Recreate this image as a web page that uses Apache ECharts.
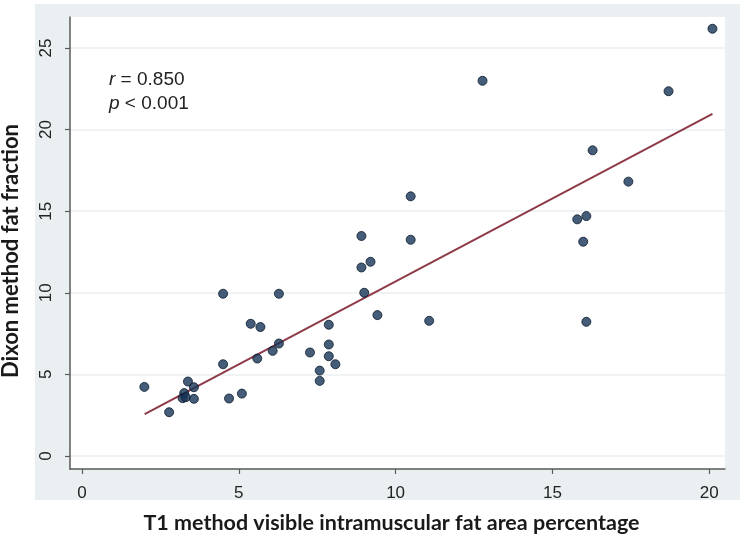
<!DOCTYPE html>
<html>
<head>
<meta charset="utf-8">
<script src="https://cdn.jsdelivr.net/npm/echarts@6/dist/echarts.min.js"></script>
<style>html,body{margin:0;padding:0;background:#fff}#c{width:750px;height:544px}</style>
</head>
<body>
<div id="c"></div>
<script>
// T1 visible intramuscular fat area percentage (x) vs Dixon fat fraction (y)
var xValues = [4.50, 6.28, 5.38, 5.69, 7.87, 6.28, 6.08, 5.59, 7.27, 7.87, 7.87, 8.08, 7.58, 7.58, 4.50,
  1.99, 3.38, 3.57, 3.26, 3.21, 3.31, 3.57, 4.69, 5.10, 2.78,
  10.48, 8.91, 10.48, 9.20, 8.91, 9.00, 9.42, 11.07,
  20.1, 12.77, 18.70, 16.28, 17.42, 15.79, 16.08, 15.98, 16.08];
var yValues = [9.94, 9.94, 8.10, 7.90, 8.04, 6.89, 6.44, 5.97, 6.34, 6.83, 6.11, 5.62, 5.23, 4.60, 5.62,
  4.23, 4.56, 4.21, 3.85, 3.54, 3.60, 3.50, 3.52, 3.82, 2.68,
  15.91, 13.48, 13.25, 11.90, 11.55, 10.0, 8.63, 8.28,
  26.18, 22.99, 22.35, 18.73, 16.81, 14.50, 14.70, 13.13, 8.22];
// fitted line end points
var fitX = [2.0, 20.1];
var fitY = [2.56, 20.96];
var xTicks = [0, 5, 10, 15, 20];
var yTicks = [0, 5, 10, 15, 20, 25];
var statR = '0.850';
var statP = '0.001';

var points = xValues.map(function (x, i) { return [x, yValues[i]]; });
var fitLine = fitX.map(function (x, i) { return [x, fitY[i]]; });

var chart = echarts.init(document.getElementById('c'), null, { renderer: 'canvas' });
var axisColor = '#5a5a5a';
chart.setOption({
  animation: false,
  backgroundColor: '#ffffff',
  graphic: [
    { type: 'rect', z: -10, shape: { x: 35, y: 4, width: 705, height: 496 }, style: { fill: '#eaf0f2' } },
    { type: 'text', z: 10, left: 109, top: 68, style: {
        text: '{i|r} = ' + statR + '\n{i|p} < ' + statP,
        font: '19px "Liberation Sans", Arial, sans-serif', fill: '#222', lineHeight: 24,
        rich: { i: { fontStyle: 'italic', fontSize: 19, fontFamily: 'Liberation Sans', fill: '#222' } }
    } }
  ],
  grid: { left: 70, top: 17, right: 25, bottom: 75, show: true, backgroundColor: '#ffffff', borderWidth: 0,
    containLabel: false, outerBoundsMode: 'none' },
  xAxis: {
    type: 'value', min: -0.38, max: 20.5,
    name: 'T1 method visible intramuscular fat area percentage',
    nameLocation: 'middle', nameGap: 43,
    nameTextStyle: { fontFamily: 'Lato', fontWeight: 'bold', fontSize: 21.5, color: '#1a1a1a', padding: [0, 12, 0, 0] },
    axisLine: { show: true, onZero: false, lineStyle: { color: axisColor, width: 1.5 } },
    axisTick: { show: true, length: 5, customValues: xTicks, lineStyle: { color: axisColor, width: 1.2 } },
    axisLabel: { customValues: xTicks, margin: 16, fontFamily: 'Liberation Sans', fontSize: 17, color: '#222' },
    splitLine: { show: false }
  },
  yAxis: {
    type: 'value', min: -0.8, max: 26.9,
    name: 'Dixon method fat fraction',
    nameLocation: 'middle', nameGap: 48,
    nameTextStyle: { fontFamily: 'Lato', fontWeight: 'bold', fontSize: 22, color: '#1a1a1a', padding: [0, 16, 0, 0] },
    axisLine: { show: true, onZero: false, lineStyle: { color: axisColor, width: 1.5 } },
    axisTick: { show: true, length: 5, customValues: yTicks, lineStyle: { color: axisColor, width: 1.2 } },
    axisLabel: { customValues: yTicks, rotate: 90, margin: 15, fontFamily: 'Liberation Sans', fontSize: 17, color: '#222' },
    splitLine: { show: true, lineStyle: { color: '#eaeff1', width: 1.5 } }
  },
  series: [
    { type: 'scatter', data: points, symbol: 'circle', symbolSize: 9, z: 3,
      itemStyle: { color: '#163556', borderColor: '#0a1a2c', borderWidth: 1 } },
    { type: 'line', data: fitLine, showSymbol: false, symbol: 'none', z: 2,
      lineStyle: { color: '#8e3a48', width: 2 } }
  ]
});
</script>
</body>
</html>
